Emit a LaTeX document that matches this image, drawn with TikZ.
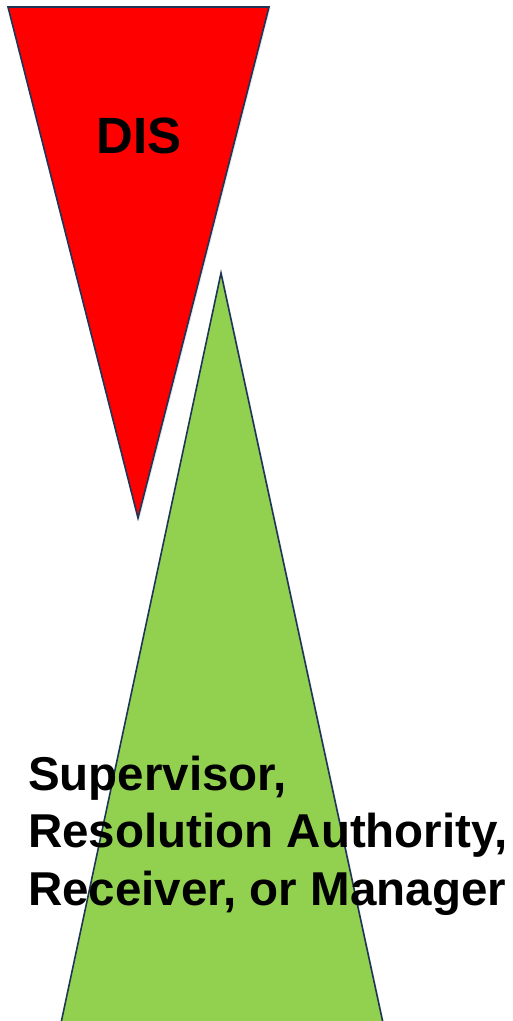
\documentclass[tikz,border=0pt]{standalone}
\usepackage{fontspec}
\setmainfont{Liberation Sans}
\usetikzlibrary{shadows}
\definecolor{triline}{HTML}{1F3557}
\definecolor{disred}{HTML}{FF0000}
\definecolor{supgreen}{HTML}{92D050}
\tikzstyle{tri} = [draw=triline, line width=1.6pt, line join=miter, drop shadow={opacity=0.18, shadow xshift=1.5pt, shadow yshift=-1.5pt}]
\tikzstyle{label} = [inner sep=0pt, font=\fontsize{47.5}{57.5}\selectfont\bfseries, align=left]

\begin{document}
\begin{tikzpicture}[x=1pt, y=-1pt]
      \useasboundingbox (0,0) rectangle (512,1021);
      % Dreieck oben (rot)
      \coordinate (dtl) at (8,7);
      \coordinate (dtr) at (269,7);
      \coordinate (dtip) at (138,518);
      \draw[tri, fill=disred] (dtl) -- (dtr) -- (dtip) -- cycle;
      
      % Dreieck unten (gruen)
      \coordinate (gtip) at (221,273);
      \coordinate (gbl) at (61,1023);
      \coordinate (gbr) at (383,1023);
      \draw[tri, fill=supgreen] (gtip) -- (gbr) -- (gbl) -- cycle;
      
      % Texte
      \node[label, font=\fontsize{51}{60}\selectfont\bfseries] (dis) at (139,136) {DIS};
      \node[label, anchor=base west] (sup) at (28,905) {Supervisor,\\Resolution Authority,\\Receiver, or Manager};
    \end{tikzpicture}
\end{document}
